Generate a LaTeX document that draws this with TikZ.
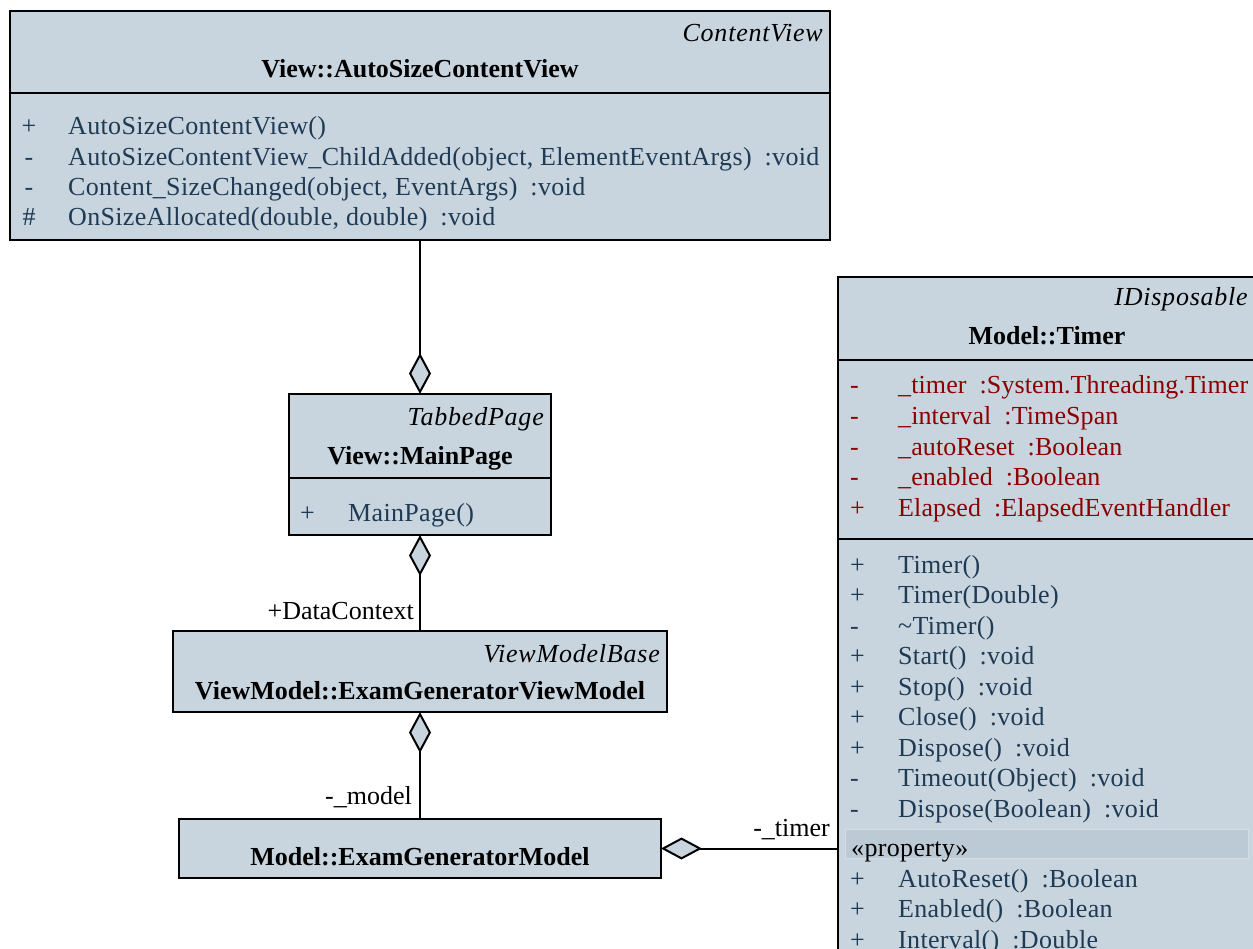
\documentclass[tikz,border=0pt]{standalone}
\usepackage{fontspec}
\setmainfont{Liberation Serif}
\newfontfamily\mfont{Liberation Serif}[LetterSpace=1.3]
\newfontfamily\afont{Liberation Serif}[LetterSpace=0.4]
\newfontfamily\sfont{Liberation Serif}[LetterSpace=3]
\usetikzlibrary{arrows.meta}
\definecolor{boxfill}{HTML}{C8D5DE}
\definecolor{memtext}{HTML}{1F3A55}
\definecolor{attrtext}{HTML}{8B0000}
\definecolor{propband}{HTML}{BCCAD5}
\definecolor{propedge}{HTML}{D2DCE4}
\newcommand\gp{\hspace{13pt}}
\newcommand\fs{\fontsize{26}{30}\selectfont}
\begin{document}
\begin{tikzpicture}[x=1pt,y=-1pt,
  every node/.style={font=\fs, inner sep=0pt},
  umlbox/.style={draw=black, line width=2pt, fill=boxfill, anchor=north west, outer sep=0pt, inner sep=0pt},
  divider/.style={line width=2pt},
  stereo/.style={anchor=base east, font=\sfont\fs\itshape},
  cname/.style={anchor=base, font=\fs\bfseries},
  vis/.style={anchor=base, text=memtext},
  visw/.style={anchor=base west, text=memtext},
  visr/.style={anchor=base west, text=attrtext},
  mem/.style={anchor=base west, text=memtext, font=\mfont\fs},
  attr/.style={anchor=base west, text=attrtext, font=\afont\fs},
  role/.style={anchor=base east},
  agg/.style={line width=2pt},
  dia/.tip={Diamond[length=41pt,width=22pt,fill=boxfill,line width=2pt]}
]
\useasboundingbox (0,0) rectangle (1253,949);

% ---------- View::AutoSizeContentView
\node[umlbox, minimum width=820pt, minimum height=229pt] (acv) at (10,11) {};
\draw[divider] (10,93) -- (830,93);
\node[stereo] (acvS) at (823,42) {ContentView};
\node[cname] (acvN) at (420,78) {View::AutoSizeContentView};
\node[vis] (acvv1) at (29,135) {+};
\node[mem] (acvm1) at (68,135) {AutoSizeContentView()};
\node[vis] (acvv2) at (29,165.5) {-};
\node[mem] (acvm2) at (68,165.5) {AutoSizeContentView\_ChildAdded(object, ElementEventArgs)\gp:void};
\node[vis] (acvv3) at (29,196) {-};
\node[mem] (acvm3) at (68,196) {Content\_SizeChanged(object, EventArgs)\gp:void};
\node[vis] (acvv4) at (29,226) {\#};
\node[mem] (acvm4) at (68,226) {OnSizeAllocated(double, double)\gp:void};

% ---------- View::MainPage
\node[umlbox, minimum width=262pt, minimum height=141pt] (mp) at (289,394) {};
\draw[divider] (289,478) -- (551,478);
\node[stereo] (mpS) at (544,425) {TabbedPage};
\node[cname] (mpN) at (420,464) {View::MainPage};
\node[visw] (mpv1) at (300,521) {+};
\node[mem] (mpm1) at (348,521) {MainPage()};

% ---------- ViewModel::ExamGeneratorViewModel
\node[umlbox, minimum width=494pt, minimum height=81pt] (vm) at (173,631) {};
\node[stereo] (vmS) at (660,662) {ViewModelBase};
\node[cname] (vmN) at (420,699) {ViewModel::ExamGeneratorViewModel};

% ---------- Model::ExamGeneratorModel
\node[umlbox, minimum width=482pt, minimum height=59pt] (egm) at (179,819) {};
\node[cname] (egmN) at (420,865) {Model::ExamGeneratorModel};

% ---------- Model::Timer
\node[umlbox, minimum width=419pt, minimum height=760pt] (tm) at (838,277) {};
\draw[divider] (838,360) -- (1257,360);
\draw[divider] (838,539) -- (1257,539);
\node[stereo] (tmS) at (1248,306) {IDisposable};
\node[cname] (tmN) at (1047,345) {Model::Timer};
% attributes
\node[visr] (ta1v) at (850,394) {-};
\node[attr] (ta1) at (898,394) {\_timer\gp:System.Threading.Timer};
\node[visr] (ta2v) at (850,424.5) {-};
\node[attr] (ta2) at (898,424.5) {\_interval\gp:TimeSpan};
\node[visr] (ta3v) at (850,455) {-};
\node[attr] (ta3) at (898,455) {\_autoReset\gp:Boolean};
\node[visr] (ta4v) at (850,485.5) {-};
\node[attr] (ta4) at (898,485.5) {\_enabled\gp:Boolean};
\node[visr] (ta5v) at (850,516) {+};
\node[attr] (ta5) at (898,516) {Elapsed\gp:ElapsedEventHandler};
% methods
\node[visw] (tm1v) at (850,573) {+};
\node[mem] (tm1) at (898,573) {Timer()};
\node[visw] (tm2v) at (850,603.5) {+};
\node[mem] (tm2) at (898,603.5) {Timer(Double)};
\node[visw] (tm3v) at (850,634) {-};
\node[mem] (tm3) at (898,634) {\textasciitilde Timer()};
\node[visw] (tm4v) at (850,664.5) {+};
\node[mem] (tm4) at (898,664.5) {Start()\gp:void};
\node[visw] (tm5v) at (850,695) {+};
\node[mem] (tm5) at (898,695) {Stop()\gp:void};
\node[visw] (tm6v) at (850,725.5) {+};
\node[mem] (tm6) at (898,725.5) {Close()\gp:void};
\node[visw] (tm7v) at (850,756) {+};
\node[mem] (tm7) at (898,756) {Dispose()\gp:void};
\node[visw] (tm8v) at (850,786.5) {-};
\node[mem] (tm8) at (898,786.5) {Timeout(Object)\gp:void};
\node[visw] (tm9v) at (850,817) {-};
\node[mem] (tm9) at (898,817) {Dispose(Boolean)\gp:void};
% property band
\draw[fill=propband, draw=propedge, line width=1pt] (845,829) rectangle (1248,858);
\node[anchor=base west, font=\mfont\fs] (tpH) at (851,856) {«property»};
\node[visw] (tp1v) at (850,887) {+};
\node[mem] (tp1) at (898,887) {AutoReset()\gp:Boolean};
\node[visw] (tp2v) at (850,917.5) {+};
\node[mem] (tp2) at (898,917.5) {Enabled()\gp:Boolean};
\node[visw] (tp3v) at (850,948) {+};
\node[mem] (tp3) at (898,948) {Interval()\gp:Double};

% ---------- connectors
\draw[agg, -{dia}] (acv.south) -- (mp.north);
\draw[agg, {dia}-] (mp.south) -- (vm.north);
\draw[agg, {dia}-] (vm.south) -- (egm.north);
\draw[agg, {dia}-] (egm.east) -- (egm.east -| tm.west);

% ---------- role labels
\node[role] (rDC) at (414,619) {+DataContext};
\node[role] (rM) at (412,804) {-\_model};
\node[role] (rT) at (830,836) {-\_timer};
\end{tikzpicture}
\end{document}
